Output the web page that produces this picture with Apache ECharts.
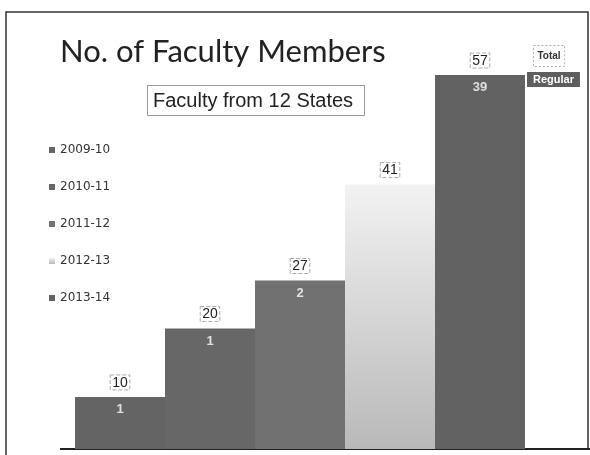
<!DOCTYPE html>
<html>
<head>
<meta charset="utf-8">
<script src="https://cdn.jsdelivr.net/npm/echarts@6/dist/echarts.min.js"></script>
<style>
html, body { margin: 0; padding: 0; background: #fff; }
#main { width: 590px; height: 455px; }
</style>
</head>
<body>
<div id="main"></div>
<script>
// years shown on the x axis (and in the left legend)
var years = ['2009-10', '2010-11', '2011-12', '2012-13', '2013-14'];
// total faculty per year
var totals = [10, 20, 27, 41, 57];
// regular faculty per year (none readable for 2012-13)
var regular = [1, 1, 2, null, 39];
// bar fill per year (scan is grey)
var barColors = ['#646464', '#676767', '#717171', null, '#626262'];

var lightBar = new echarts.graphic.LinearGradient(0, 0, 0, 1, [
	{offset: 0, color: '#f2f2f2'},
	{offset: 1, color: '#b9b9b9'}
]);

var myChart = echarts.init(document.getElementById('main'));

var series = years.map(function (y, i) {
	return {
		name: y,
		type: 'bar',
		barGap: '-100%',
		barCategoryGap: 0,
		itemStyle: {color: barColors[i] || lightBar},
		label: {
			show: true,
			position: 'top',
			distance: 7,
			color: '#222',
			fontFamily: 'Liberation Sans',
			fontSize: 14,
			borderColor: '#aaa',
			borderWidth: 1,
			borderType: 'dashed',
			padding: [1, 2, 0, 2]
		},
		data: years.map(function (c, j) { return j === i ? totals[i] : '-'; })
	};
});

// regular counts sit just under the top of each bar
series.push({
	name: 'Regular',
	type: 'scatter',
	symbolSize: 0,
	silent: true,
	label: {
		show: true,
		position: 'bottom',
		distance: 6,
		color: '#fff',
		fontWeight: 'bold',
		fontFamily: 'Liberation Sans',
		fontSize: 13,
		formatter: function (p) { return regular[p.dataIndex] == null ? '' : regular[p.dataIndex]; }
	},
	data: years.map(function (y, i) { return [y, totals[i]]; })
});

var option = {
	animation: false,
	title: [
		{
			text: 'No. of Faculty Members',
			left: 55,
			top: 31,
			textStyle: {fontFamily: 'Lato', fontWeight: 'normal', fontSize: 31, color: '#222'}
		},
		{
			text: 'Faculty from 12 States',
			left: 147,
			top: 85,
			borderColor: '#999',
			borderWidth: 1,
			padding: [6, 12, 5, 6],
			textStyle: {fontFamily: 'Liberation Sans', fontWeight: 'normal', fontSize: 20, color: '#222'}
		}
	],
	legend: {
		orient: 'vertical',
		left: 44,
		top: 137,
		data: years,
		itemWidth: 6,
		itemHeight: 6,
		itemGap: 21,
		icon: 'rect',
		textStyle: {fontFamily: 'DejaVu Sans', fontSize: 12, color: '#333', lineHeight: 16}
	},
	grid: {left: 75, right: 65, top: 49, bottom: 6},
	xAxis: {
		type: 'category',
		data: years,
		axisLine: {lineStyle: {color: '#222', width: 2}},
		axisTick: {show: false},
		axisLabel: {show: false}
	},
	yAxis: {
		type: 'value',
		min: 2.4,
		max: 60.8,
		show: false,
		splitLine: {show: false}
	},
	graphic: [
		{
			type: 'polyline',
			silent: true,
			shape: {points: [[6, 455], [6, 12], [588, 12], [588, 449]]},
			style: {stroke: '#333', lineWidth: 1.5, fill: null}
		},
		{
			type: 'line',
			silent: true,
			shape: {x1: 60, y1: 449, x2: 590, y2: 449},
			style: {stroke: '#222', lineWidth: 2}
		},
		{
			type: 'text',
			left: 533,
			top: 45,
			style: {
				text: 'Total',
				font: 'bold 10px Liberation Sans',
				fill: '#333',
				borderColor: '#aaa',
				borderWidth: 1,
				borderDash: [2, 2],
				padding: [6, 4, 5, 4]
			}
		},
		{
			type: 'text',
			left: 527,
			top: 72,
			style: {
				text: 'Regular',
				font: 'bold 11px Liberation Sans',
				fill: '#fff',
				backgroundColor: '#5e5e5e',
				padding: [2, 6, 2, 6]
			}
		}
	],
	series: series
};

myChart.setOption(option);
</script>
</body>
</html>
